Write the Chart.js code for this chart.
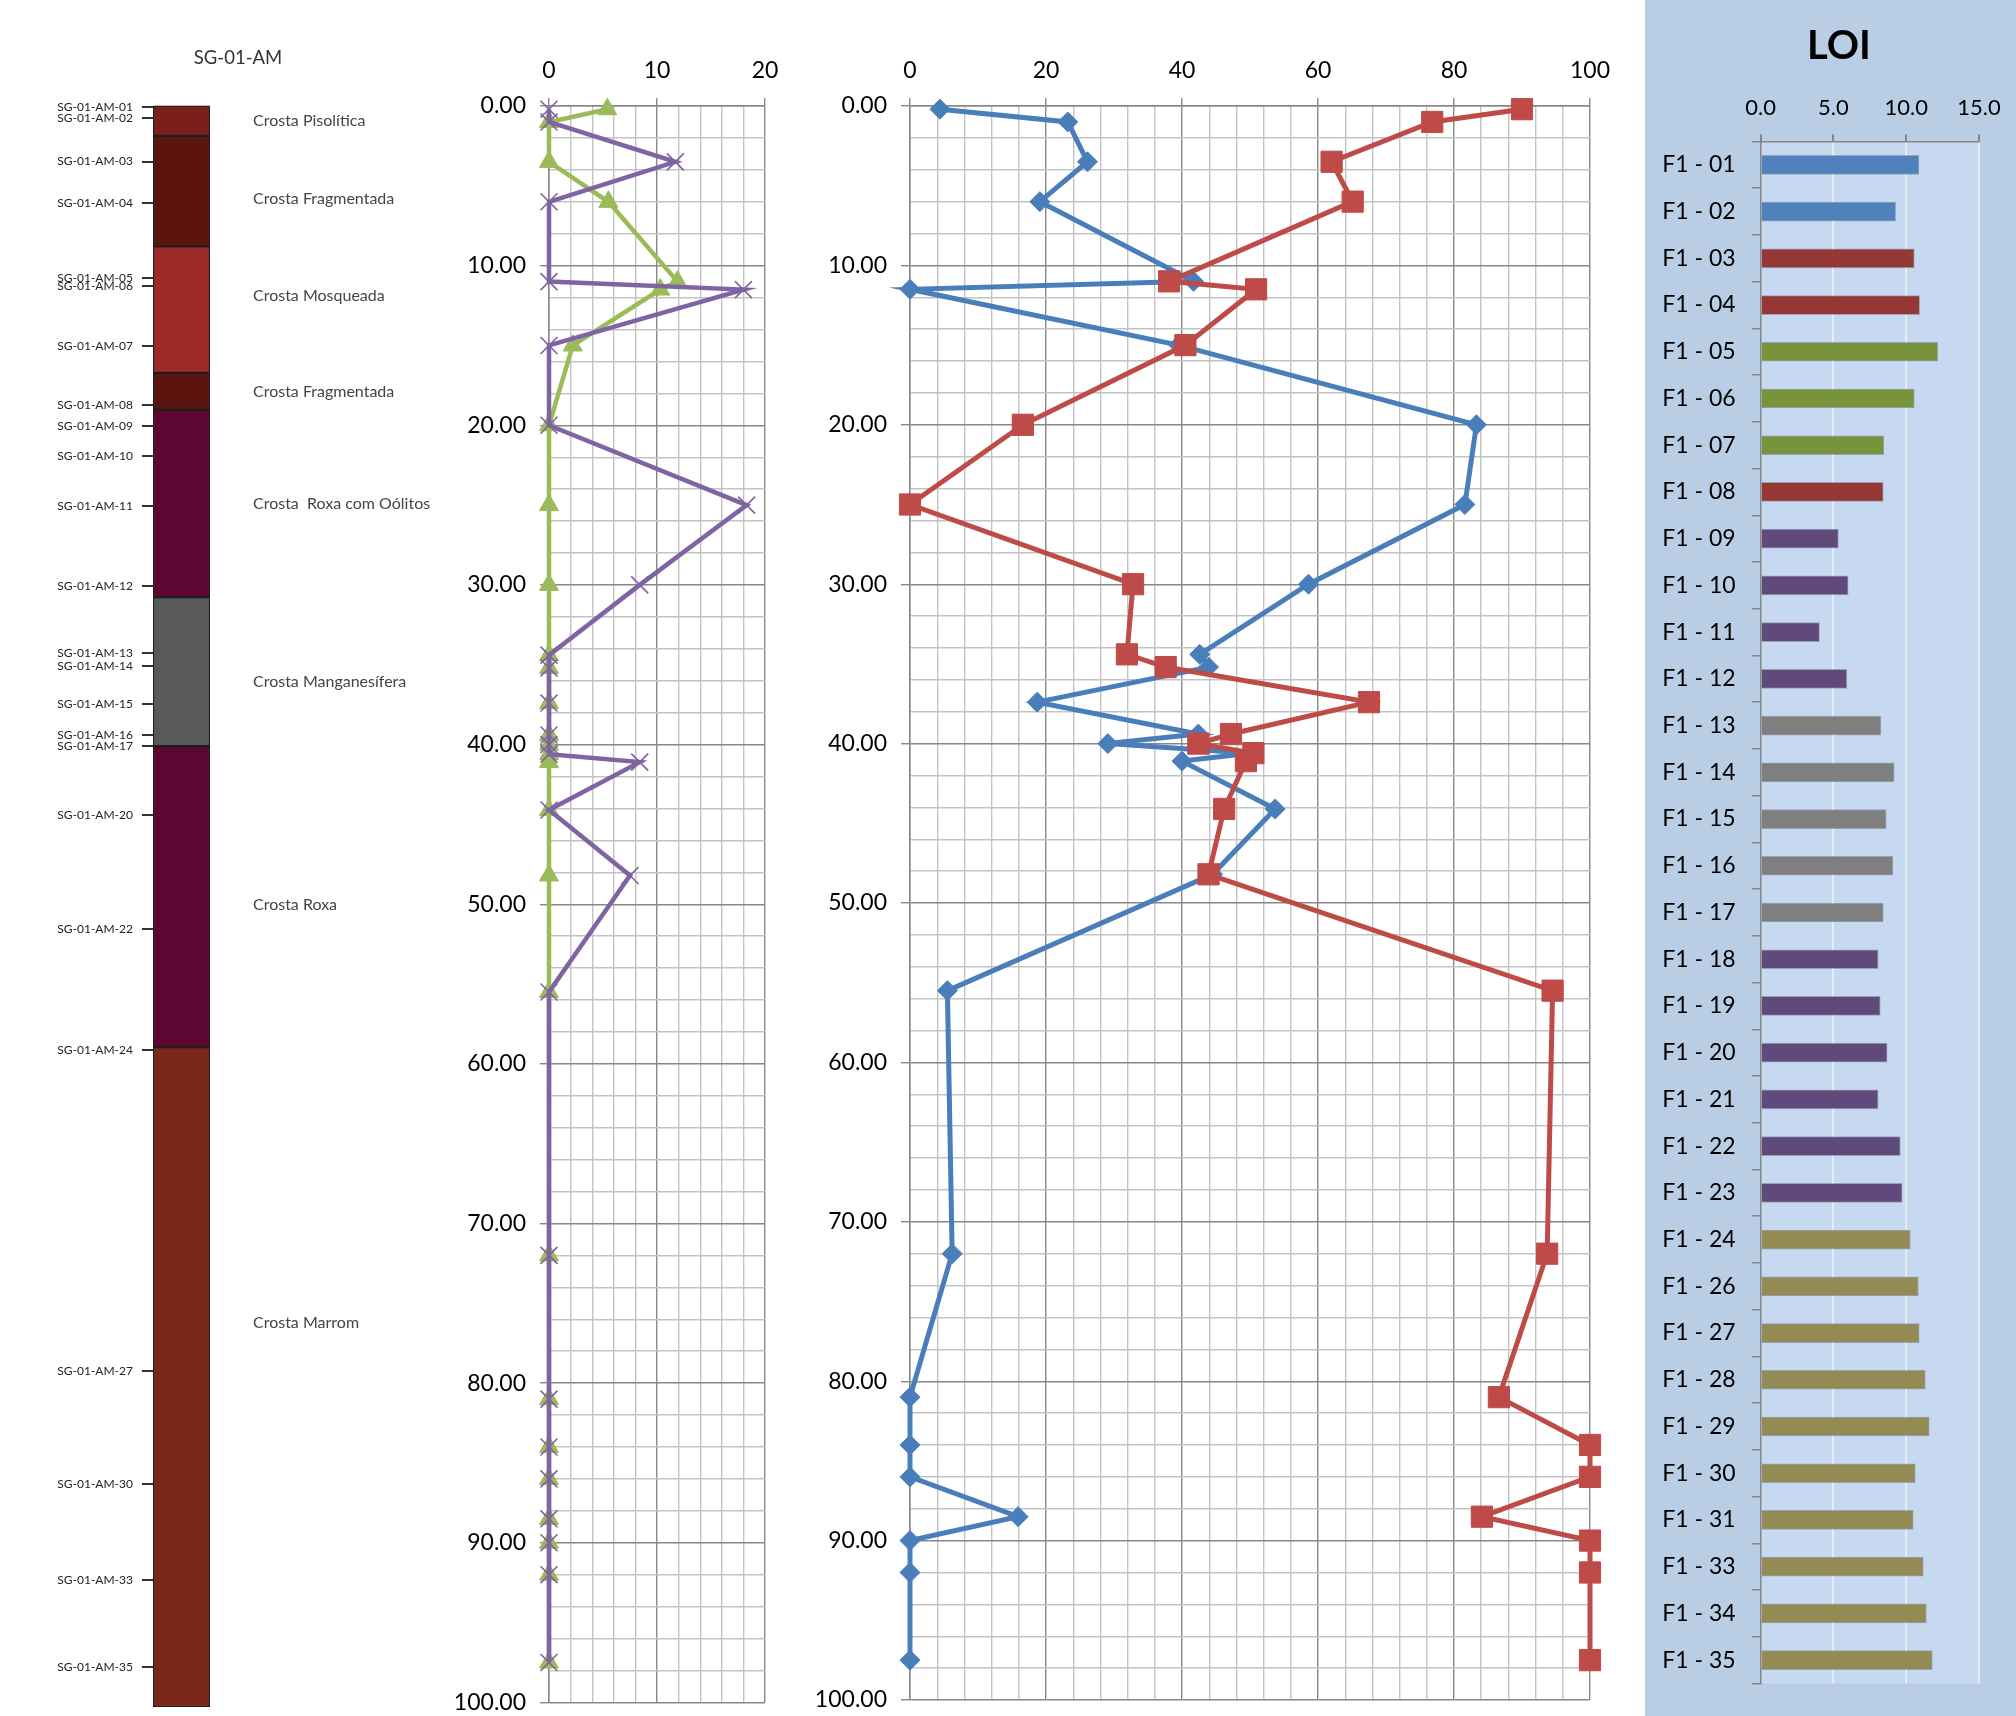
<!DOCTYPE html>
<html>
<head>
<meta charset="utf-8">
<script src="https://cdn.jsdelivr.net/npm/chart.js@4.4.1/dist/chart.umd.min.js"></script>
<style>
  html, body { margin: 0; padding: 0; background: #fff; }
  body { width: 2016px; height: 1716px; position: relative; overflow: hidden; }
  .box { position: absolute; top: 0; height: 1716px; }
  #strat { left: 0; width: 440px; }
  #minor { left: 440px; width: 360px; }
  #major { left: 800px; width: 820px; }
  #loi { left: 1645px; width: 371px; background: #b9cde5; }
</style>
</head>
<body>
<div class="box" id="strat"><canvas id="stratChart"></canvas></div>
<div class="box" id="minor"><canvas id="minorChart"></canvas></div>
<div class="box" id="major"><canvas id="majorChart"></canvas></div>
<div class="box" id="loi"><canvas id="loiChart"></canvas></div>
<script>
// --- profile SG-01-AM ---
const layerTop  = [0, 1.9, 8.8, 16.7, 19.0, 30.7, 40.0, 58.8];
const layerBase = [1.9, 8.8, 16.7, 19.0, 30.7, 40.0, 58.8, 100];
const layerNames = ['Crosta Pisolítica', 'Crosta Fragmentada', 'Crosta Mosqueada', 'Crosta Fragmentada',
  'Crosta  Roxa com Oólitos', 'Crosta Manganesífera', 'Crosta Roxa', 'Crosta Marrom'];
const layerLabelAt = [0.95, 5.85, 11.9, 17.9, 24.9, 36.0, 49.9, 76.0];
const sampleNames = ['SG-01-AM-01', 'SG-01-AM-02', 'SG-01-AM-03', 'SG-01-AM-04', 'SG-01-AM-05', 'SG-01-AM-06',
  'SG-01-AM-07', 'SG-01-AM-08', 'SG-01-AM-09', 'SG-01-AM-10', 'SG-01-AM-11', 'SG-01-AM-12', 'SG-01-AM-13',
  'SG-01-AM-14', 'SG-01-AM-15', 'SG-01-AM-16', 'SG-01-AM-17', 'SG-01-AM-20', 'SG-01-AM-22', 'SG-01-AM-24',
  'SG-01-AM-27', 'SG-01-AM-30', 'SG-01-AM-33', 'SG-01-AM-35'];
const sampleDepths = [0.1, 0.8, 3.5, 6.1, 10.8, 11.3, 15.0, 18.7, 20.0, 21.9, 25.0, 30.0, 34.2,
  35.0, 37.4, 39.3, 40.0, 44.3, 51.4, 59.0, 79.0, 86.1, 92.1, 97.5];

// --- geochemistry vs depth ---
const depths = [0.2, 1.0, 3.5, 6.0, 11.0, 11.5, 15.0, 20.0, 25.0, 30.0, 34.4, 35.2, 37.4, 39.4,
  40.0, 40.6, 41.1, 44.1, 48.2, 55.5, 72.0, 81.0, 84.0, 86.0, 88.5, 90.0, 92.0, 97.5];
const purpleVals = [0, 0, 11.7, 0, 0, 18.0, 0, 0, 18.3, 8.4, 0, 0, 0, 0,
  0, 0, 8.4, 0, 7.5, 0, 0, 0, 0, 0, 0, 0, 0, 0];
const greenVals = [5.4, 0, 0, 5.5, 11.9, 10.3, 2.2, 0, 0, 0, 0, 0, 0, 0,
  0, 0, 0, 0, 0, 0, 0, 0, 0, 0, 0, 0, 0, 0];
const blueVals = [4.4, 23.2, 26.1, 19.1, 41.7, 0, 39.5, 83.3, 81.6, 58.6, 42.6, 43.9, 18.7, 42.4,
  29.1, 50.0, 40.0, 53.7, 44.5, 5.5, 6.2, 0, 0, 0, 15.9, 0, 0, 0];
const redVals = [90.0, 76.8, 62.0, 65.1, 38.1, 50.9, 40.5, 16.6, 0, 32.8, 31.9, 37.6, 67.5, 47.2,
  42.4, 50.5, 49.4, 46.2, 43.9, 94.5, 93.7, 86.6, 100, 100, 84.1, 100, 100, 100];

// --- LOI ---
const loiLabels = ['F1 - 01', 'F1 - 02', 'F1 - 03', 'F1 - 04', 'F1 - 05', 'F1 - 06', 'F1 - 07', 'F1 - 08',
  'F1 - 09', 'F1 - 10', 'F1 - 11', 'F1 - 12', 'F1 - 13', 'F1 - 14', 'F1 - 15', 'F1 - 16', 'F1 - 17',
  'F1 - 18', 'F1 - 19', 'F1 - 20', 'F1 - 21', 'F1 - 22', 'F1 - 23', 'F1 - 24', 'F1 - 26', 'F1 - 27',
  'F1 - 28', 'F1 - 29', 'F1 - 30', 'F1 - 31', 'F1 - 33', 'F1 - 34', 'F1 - 35'];
const loiValues = [10.87, 9.27, 10.55, 10.92, 12.16, 10.55, 8.46, 8.42, 5.34, 6.01, 4.04, 5.92,
  8.26, 9.17, 8.62, 9.08, 8.42, 8.07, 8.21, 8.69, 8.07, 9.59, 9.72, 10.28, 10.83, 10.89,
  11.31, 11.58, 10.62, 10.48, 11.17, 11.38, 11.79];
const loiFacies = ['Pisolitica', 'Pisolitica', 'Fragmentada', 'Fragmentada', 'Mosqueada', 'Mosqueada',
  'Mosqueada', 'Fragmentada', 'Roxa', 'Roxa', 'Roxa', 'Roxa', 'Manganesifera', 'Manganesifera',
  'Manganesifera', 'Manganesifera', 'Manganesifera', 'Roxa', 'Roxa', 'Roxa', 'Roxa', 'Roxa', 'Roxa',
  'Marrom', 'Marrom', 'Marrom', 'Marrom', 'Marrom', 'Marrom', 'Marrom', 'Marrom', 'Marrom', 'Marrom'];

const layerColors = ['#7b1f1a', '#5c140e', '#9c2a28', '#5c140e', '#5d0632', '#58595b', '#5d0632', '#7a2719'];
const faciesColor = {
  Pisolitica: '#4f81bd', Fragmentada: '#953735', Mosqueada: '#77933c',
  Roxa: '#604a7b', Manganesifera: '#7f7f7f', Marrom: '#948a54'
};

Chart.defaults.font.family = 'Lato, "Liberation Sans", sans-serif';
Chart.defaults.color = '#000';
Chart.defaults.animation = false;
Chart.defaults.plugins.legend.display = false;
Chart.defaults.plugins.tooltip.enabled = false;

const toPts = vals => vals.map((v, i) => ({x: v, y: depths[i]}));
const isMajor = (v, m) => Math.abs(Math.round(v) % m) === 0 && Math.abs(v - Math.round(v)) < 1e-6;
// keep end labels from shrinking the plot area
const noEdgePad = s => { s.paddingTop = 0; s.paddingBottom = 0; s.paddingLeft = 0; s.paddingRight = 0; };

// layer names and heading next to the column
const stratText = {
  id: 'stratText',
  afterDraw(chart) {
    const {ctx, chartArea, scales} = chart;
    ctx.save();
    ctx.fillStyle = '#444';
    ctx.font = '16px Lato';
    ctx.textBaseline = 'middle';
    layerNames.forEach((name, i) => {
      ctx.fillText(name, chartArea.right + 43, scales.y.getPixelForValue(layerLabelAt[i]));
    });
    ctx.fillStyle = '#333';
    ctx.font = '18.5px Lato';
    ctx.textAlign = 'center';
    ctx.fillText('SG-01-AM', 238, 58);
    ctx.restore();
  }
};

new Chart(document.getElementById('stratChart'), {
  type: 'bar',
  data: {
    labels: [''],
    datasets: layerNames.map((name, i) => ({
      label: name,
      data: [[layerTop[i], layerBase[i]]],
      backgroundColor: layerColors[i],
      borderColor: '#1e1e1e',
      borderWidth: 1.5,
      borderSkipped: false,
      grouped: false,
      barPercentage: 1,
      categoryPercentage: 1
    }))
  },
  options: {
    responsive: true,
    maintainAspectRatio: false,
    layout: {padding: {top: 105.5, bottom: 9, right: 230, left: 0}},
    scales: {
      x: {display: false},
      y: {
        reverse: true, min: 0, max: 100,
        afterFit(s) { s.width = 153; noEdgePad(s); },
        afterBuildTicks(s) { s.ticks = sampleDepths.map(v => ({value: v})); },
        border: {display: false},
        grid: {drawOnChartArea: false, tickLength: 11, color: '#333', lineWidth: 2},
        ticks: {
          autoSkip: false, padding: 9, color: '#222',
          font: {size: 12},
          callback: (v, i) => sampleNames[i]
        }
      }
    }
  },
  plugins: [stratText]
});

function depthAxis(width) {
  return {
    reverse: true, min: 0, max: 100,
    afterFit(s) { s.width = width; noEdgePad(s); },
    border: {color: '#878787', width: 1.5},
    grid: {
      color: c => isMajor(c.tick.value, 10) ? '#878787' : '#c3c3c3',
      tickColor: c => isMajor(c.tick.value, 10) ? '#878787' : 'rgba(0,0,0,0)',
      lineWidth: 1.4, tickLength: 9
    },
    ticks: {
      stepSize: 2, autoSkip: false, padding: 14,
      font: {size: 23},
      callback: v => isMajor(v, 10) ? v.toFixed(2) : ''
    }
  };
}

function valueAxis(max, step, major) {
  return {
    position: 'top', min: 0, max: max,
    afterFit(s) { s.height = 106; noEdgePad(s); },
    border: {color: '#878787', width: 1.5},
    grid: {
      color: c => isMajor(c.tick.value, major) ? '#878787' : '#c3c3c3',
      tickColor: c => isMajor(c.tick.value, major) ? '#878787' : 'rgba(0,0,0,0)',
      lineWidth: 1.4, tickLength: 8
    },
    ticks: {
      stepSize: step, autoSkip: false, maxRotation: 0, padding: 14,
      font: {size: 23},
      callback: v => isMajor(v, major) ? String(v) : ''
    }
  };
}

new Chart(document.getElementById('minorChart'), {
  type: 'scatter',
  data: {
    datasets: [{
      label: 'Série roxa',
      data: toPts(purpleVals),
      showLine: true,
      borderColor: '#7f63a2', borderWidth: 4.5,
      pointStyle: 'crossRot', pointRadius: 12,
      pointBorderColor: '#7f63a2', pointBorderWidth: 1.6,
      clip: false
    }, {
      label: 'Série verde',
      data: toPts(greenVals),
      showLine: true,
      borderColor: '#9bbb59', borderWidth: 4.5,
      pointStyle: 'triangle', pointRadius: 11,
      pointBackgroundColor: '#9bbb59', pointBorderColor: '#9bbb59', pointBorderWidth: 1,
      clip: false
    }]
  },
  options: {
    responsive: true,
    maintainAspectRatio: false,
    layout: {padding: {top: 0, bottom: -3, right: 35, left: 0}},
    scales: {
      x: valueAxis(20, 2, 10),
      y: depthAxis(109)
    }
  }
});

new Chart(document.getElementById('majorChart'), {
  type: 'scatter',
  data: {
    datasets: [{
      label: 'Série vermelha',
      data: toPts(redVals),
      showLine: true,
      borderColor: '#be4b48', borderWidth: 5,
      pointStyle: 'rect', pointRadius: 15,
      pointBackgroundColor: '#be4b48', pointBorderColor: '#be4b48', pointBorderWidth: 1,
      clip: false
    }, {
      label: 'Série azul',
      data: toPts(blueVals),
      showLine: true,
      borderColor: '#4a7ebb', borderWidth: 5,
      pointStyle: 'rectRot', pointRadius: 10,
      pointBackgroundColor: '#4a7ebb', pointBorderColor: '#4a7ebb', pointBorderWidth: 1,
      clip: false
    }]
  },
  options: {
    responsive: true,
    maintainAspectRatio: false,
    layout: {padding: {top: 0, bottom: -3, right: 30, left: 0}},
    scales: {
      x: valueAxis(100, 4, 20),
      y: depthAxis(110)
    }
  }
});

// lighter plot area and the "LOI" heading
const loiDecor = {
  id: 'loiDecor',
  beforeDraw(chart) {
    const {ctx, chartArea: a} = chart;
    ctx.save();
    ctx.fillStyle = '#c6d9f1';
    ctx.fillRect(a.left, a.top, a.right - a.left, a.bottom - a.top);
    ctx.restore();
  },
  afterDraw(chart) {
    const {ctx} = chart;
    ctx.save();
    ctx.fillStyle = '#000';
    ctx.font = 'bold 40px Lato';
    ctx.textAlign = 'center';
    ctx.textBaseline = 'middle';
    ctx.fillText('LOI', 194, 46);
    ctx.restore();
  }
};

new Chart(document.getElementById('loiChart'), {
  type: 'bar',
  data: {
    labels: loiLabels,
    datasets: [{
      label: 'LOI',
      data: loiValues,
      backgroundColor: loiFacies.map(f => faciesColor[f]),
      borderColor: 'rgba(60,60,60,0.35)',
      borderWidth: 1,
      borderSkipped: 'start',
      barThickness: 19
    }]
  },
  options: {
    indexAxis: 'y',
    responsive: true,
    maintainAspectRatio: false,
    layout: {padding: {top: 0, bottom: 32.5, right: 37, left: 0}},
    scales: {
      x: {
        position: 'top', min: 0, max: 15,
        afterFit(s) { s.height = 141.5; noEdgePad(s); },
        border: {color: '#868686', width: 1.5},
        grid: {
          color: c => c.tick.value === 0 ? 'rgba(0,0,0,0)' : '#e4ecf6',
          tickColor: '#868686', lineWidth: 2, tickLength: 7
        },
        ticks: {stepSize: 5, padding: 13, font: {size: 22}, callback: v => v.toFixed(1)}
      },
      y: {
        afterFit(s) { s.width = 115.7; noEdgePad(s); },
        border: {color: '#868686', width: 1.5},
        grid: {drawOnChartArea: false, offset: true, color: '#868686', tickLength: 9, lineWidth: 1.5},
        ticks: {autoSkip: false, padding: 16, font: {size: 23}}
      }
    }
  },
  plugins: [loiDecor]
});
</script>
</body>
</html>
